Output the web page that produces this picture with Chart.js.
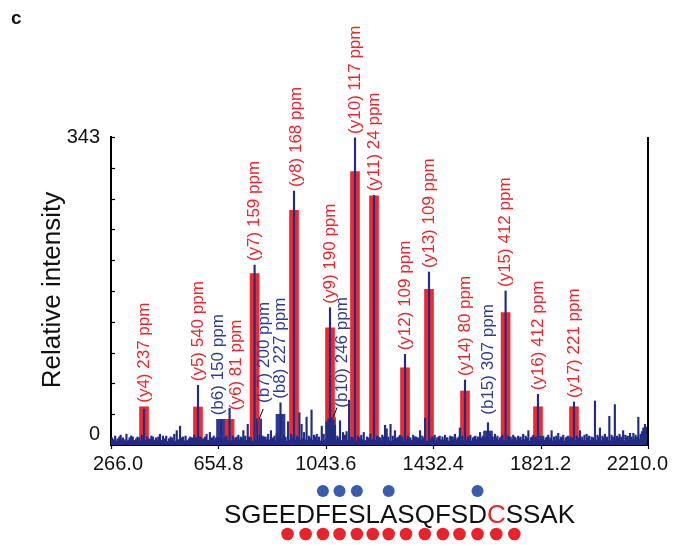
<!DOCTYPE html>
<html>
<head>
<meta charset="utf-8">
<script src="https://cdn.jsdelivr.net/npm/chart.js@4.4.1/dist/chart.umd.min.js"></script>
<style>
  html, body { margin: 0; padding: 0; background: #fff; }
  #wrap { width: 674px; height: 545px; position: relative; }
</style>
</head>
<body>
<div id="wrap"><canvas id="spec" width="674" height="545"></canvas></div>
<script>
// ---- Matched fragment ions ----
const ionNames = ['y4', 'y5', 'b6', 'y6', 'y7', 'b7', 'b8', 'y8', 'y9', 'b10', 'y10', 'y11', 'y12', 'y13', 'y14', 'b15', 'y15', 'y16', 'y17'];
const ionMz    = [385.5, 580.9, 664.2, 695.3, 785.8, 795.3, 879.6, 928.5, 1058.8, 1062.4, 1149.3, 1218.1, 1330.3, 1417.2, 1547.5, 1630.7, 1694.5, 1811.7, 1942.1];
const ionBar   = [42.6, 42.3, 28.6, 28.6, 190.8, 29, 34.2, 261.3, 130.6, 30.4, 304.4, 277.6, 86, 173.4, 60.1, 15.6, 147.4, 42.6, 42.6];
const ionPeak  = [40, 66.5, 28.6, 41, 200.4, 29, 47, 282.8, 152.9, 30.4, 342, 278, 101, 192.7, 72.4, 24.8, 171.5, 56.5, 47.9];
const ionPpm   = [237, 540, 150, 81, 159, 200, 227, 168, 190, 246, 117, 24, 109, 109, 80, 307, 412, 412, 221];

// ---- Axis ticks ----
const xTickLabels = ['266.0', '654.8', '1043.6', '1432.4', '1821.2', '2210.0'];
const xTickValues = [266.0, 654.8, 1043.6, 1432.4, 1821.2, 2210.0];
const yTickLabels = ['0', '343'];
const yTickValues = [0, 343];

// ---- Peptide ----
const sequence = 'SGEEDFESLASQFSDCSSAK';
const modifiedResidue = 16;

// ---- Unassigned spectrum peaks [m/z, intensity] ----
const spikePeaks = [
  [443, 12], [454, 10], [504, 16], [516, 21], [612, 12], [624, 14], [745, 16], [761, 23],
  [845, 16], [907, 26], [948, 36], [956, 23], [974, 31], [992, 39], [1011, 12], [1029, 21],
  [1046, 26], [1049, 24], [1053, 29], [1064, 30], [1067, 27], [1071, 28], [1077, 22], [1095, 27], [1106, 14], [1119, 15],
  [1128, 50], [1258, 22], [1264, 18], [1278, 23], [1294, 16], [1385, 16], [1403, 30], [1511, 12],
  [1529, 19], [1602, 14], [1656, 12], [1758, 12], [1777, 16], [1831, 10], [1861, 16], [1885, 13],
  [1964, 16], [1988, 12], [2018, 49], [2036, 19], [2070, 32], [2090, 45], [2120, 16], [2157, 13],
  [2175, 31], [2193, 19], [2199, 23], [2206, 20]
];
const noisePeaks = [
  [270, 8], [276, 6], [281, 10], [290, 7], [296, 9], [301, 11], [309, 8], [315, 6], [322, 12], [333, 8], [339, 10], [345, 9], [357, 7], [362, 9], [368, 8],
  [378, 11], [397, 9], [405, 7], [412, 10], [418, 9], [429, 8], [437, 9], [460, 7], [466, 10], [476, 7], [482, 9], [488, 8], [495, 12],
  [521, 8], [527, 9], [536, 10], [548, 7], [553, 9], [559, 8], [567, 11], [574, 8], [588, 9], [592, 8], [600, 7], [606, 9], [632, 8], [638, 10], [646, 8],
  [652, 9], [657, 8], [678, 8], [684, 10], [707, 10], [716, 8], [721, 9], [727, 11], [735, 9], [740, 8], [752, 10], [766, 9], [772, 8], [803, 11], [809, 8], [814, 10],
  [820, 9], [826, 9], [835, 12], [852, 8], [858, 10], [866, 13], [874, 9], [886, 8], [892, 11], [898, 9], [918, 12], [924, 8], [938, 10], [943, 8], [965, 14],
  [982, 10], [987, 8], [1001, 11], [1006, 9], [1019, 9], [1036, 12], [1085, 10], [1090, 8], [1113, 11], [1136, 9], [1141, 8], [1160, 10], [1166, 8], [1172, 11], [1181, 14],
  [1193, 9], [1199, 8], [1205, 12], [1229, 10], [1235, 9], [1240, 8], [1248, 11], [1253, 9], [1270, 9], [1286, 10], [1302, 8], [1307, 9], [1312, 11], [1320, 9],
  [1341, 10], [1346, 8], [1350, 8], [1360, 11], [1366, 9], [1371, 9], [1378, 8], [1393, 10], [1398, 8], [1428, 9], [1433, 8], [1438, 11], [1447, 8], [1452, 9], [1456, 10], [1466, 9],
  [1475, 11], [1480, 8], [1484, 8], [1494, 10], [1499, 9], [1503, 9], [1520, 8], [1526, 9], [1538, 10], [1558, 9], [1563, 8], [1567, 11], [1576, 8], [1581, 9], [1585, 10],
  [1594, 9], [1607, 8], [1612, 10], [1621, 8], [1626, 9], [1640, 11], [1648, 9], [1660, 8], [1665, 10], [1674, 8], [1679, 9], [1683, 11], [1704, 10], [1709, 8], [1713, 9],
  [1722, 11], [1727, 9], [1731, 8], [1740, 10], [1745, 8], [1749, 9], [1767, 10], [1772, 8], [1786, 8], [1790, 9], [1795, 11], [1803, 9], [1808, 8], [1821, 10], [1826, 8], [1840, 8],
  [1845, 9], [1849, 11], [1856, 8], [1870, 9], [1878, 10], [1894, 9], [1899, 8], [1903, 11], [1912, 8], [1916, 9], [1921, 10], [1930, 9], [1935, 8], [1952, 10], [1958, 8], [1972, 9],
  [1980, 11], [1992, 8], [1997, 10], [2006, 9], [2011, 8], [2027, 11], [2032, 9], [2045, 10], [2050, 8], [2054, 12], [2062, 9], [2078, 11], [2084, 9], [2098, 10], [2103, 8], [2107, 12],
  [2113, 9], [2128, 11], [2133, 9], [2137, 10], [2145, 13], [2150, 9], [2165, 11], [2170, 9], [2183, 12], [2188, 15]
];
// Dense low-level baseline [m/z, intensity]
const baseline = [
  [266, 4], [278, 5], [290, 4], [303, 6], [316, 4], [330, 5], [344, 4], [358, 6], [372, 4], [386, 5],
  [400, 4], [414, 6], [428, 5], [442, 4], [456, 6], [470, 4], [484, 5], [498, 4], [512, 6], [526, 4],
  [540, 5], [554, 4], [568, 6], [582, 4], [596, 5], [610, 4], [624, 6], [638, 5], [652, 4], [666, 6],
  [680, 4], [694, 5], [708, 4], [722, 6], [736, 5], [750, 4], [764, 6], [778, 4], [792, 5], [806, 6],
  [820, 4], [834, 6], [848, 5], [862, 4], [876, 6], [890, 5], [904, 4], [918, 6], [932, 5], [946, 4],
  [960, 7], [974, 5], [988, 4], [1002, 6], [1016, 5], [1030, 4], [1044, 6], [1058, 5], [1072, 4], [1086, 6],
  [1100, 5], [1114, 4], [1128, 6], [1142, 5], [1156, 4], [1170, 6], [1184, 5], [1198, 4], [1212, 6], [1226, 5],
  [1240, 4], [1254, 6], [1268, 5], [1282, 4], [1296, 6], [1310, 5], [1324, 4], [1338, 6], [1352, 5], [1366, 4],
  [1380, 6], [1394, 5], [1408, 4], [1422, 6], [1436, 5], [1450, 4], [1464, 6], [1478, 5], [1492, 4], [1506, 6],
  [1520, 5], [1534, 4], [1548, 6], [1562, 5], [1576, 4], [1590, 6], [1604, 5], [1618, 4], [1632, 6], [1646, 5],
  [1660, 4], [1674, 6], [1688, 5], [1702, 4], [1716, 6], [1730, 5], [1744, 4], [1758, 6], [1772, 5], [1786, 4],
  [1800, 6], [1814, 5], [1828, 4], [1842, 6], [1856, 5], [1870, 4], [1884, 6], [1898, 5], [1912, 4], [1926, 6],
  [1940, 5], [1954, 4], [1968, 6], [1982, 5], [1996, 4], [2010, 6], [2024, 5], [2038, 4], [2052, 6], [2066, 5],
  [2080, 4], [2094, 6], [2108, 5], [2122, 4], [2136, 6], [2150, 5], [2164, 7], [2178, 6], [2192, 9], [2200, 8], [2210, 7]
];

// ---- Styling ----
const FONT = 'Arial, "Liberation Sans", Helvetica, sans-serif';
const RED = '#ED2A30';
const NAVY = '#232C80';
const BLUE_BAR = '#2C3892';
const LABEL_RED = '#E8262E';
const LABEL_BLUE = '#2F3B8E';
const DOT_BLUE = '#3A5CB0';
const DOT_RED = '#E8232B';

// Label placement tweaks (px) for crowded annotations
const labelNudge = { b6: [-3, 0], y6: [7, 6], b7: [7, -12], b10: [11, -6], b15: [0, -4], y8: [2, 0] };
const leaderIons = ['b7', 'b10'];

const yIdx = ionNames.map((n, i) => i).filter(i => ionNames[i][0] === 'y');
const bIdx = ionNames.map((n, i) => i).filter(i => ionNames[i][0] === 'b');

const stickData = []
  .concat(ionMz.map((m, i) => ({ x: m, y: ionPeak[i] })))
  .concat(spikePeaks.map(p => ({ x: p[0], y: p[1] })))
  .concat(noisePeaks.map(p => ({ x: p[0], y: p[1] })));

const decor = {
  id: 'decor',
  afterDraw(chart) {
    const { ctx, chartArea: a, scales: { x, y } } = chart;
    ctx.save();

    // right frame
    ctx.strokeStyle = '#000';
    ctx.lineWidth = 2;
    ctx.beginPath();
    ctx.moveTo(a.right, a.top);
    ctx.lineTo(a.right, a.bottom + 1);
    ctx.stroke();

    // y minor tick marks (inside)
    ctx.lineWidth = 1.2;
    for (let i = 0; i <= 10; i++) {
      const py = Math.round(y.getPixelForValue(y.max * i / 10)) + 0.5;
      ctx.beginPath();
      ctx.moveTo(a.left, py);
      ctx.lineTo(a.left + 4, py);
      ctx.stroke();
    }
    // x tick marks (outside)
    xTickValues.forEach(v => {
      const px = Math.round(x.getPixelForValue(v)) + 0.5;
      ctx.beginPath();
      ctx.moveTo(px, a.bottom);
      ctx.lineTo(px, a.bottom + 4);
      ctx.stroke();
    });

    // tick labels
    ctx.fillStyle = '#111';
    ctx.font = '20px ' + FONT;
    ctx.textBaseline = 'alphabetic';
    ctx.textAlign = 'left';
    xTickValues.forEach((v, i) => {
      const w = ctx.measureText(xTickLabels[i]).width;
      let left = x.getPixelForValue(v) - w / 2;
      left = Math.max(left, a.left - 18);
      left = Math.min(left, a.right + 20 - w);
      ctx.fillText(xTickLabels[i], left, a.bottom + 25);
    });
    ctx.textAlign = 'right';
    ctx.textBaseline = 'middle';
    ctx.fillText(yTickLabels[1], a.left - 11, y.getPixelForValue(yTickValues[1]));
    ctx.textBaseline = 'alphabetic';
    ctx.fillText(yTickLabels[0], a.left - 11, y.getPixelForValue(yTickValues[0]) - 5);

    // y title
    ctx.save();
    ctx.translate(60, (a.top + a.bottom) / 2 - 1);
    ctx.rotate(-Math.PI / 2);
    ctx.textAlign = 'center';
    ctx.textBaseline = 'alphabetic';
    ctx.font = '26px ' + FONT;
    ctx.fillText('Relative intensity', 0, 0);
    ctx.restore();

    // panel letter
    ctx.font = 'bold 19px ' + FONT;
    ctx.textAlign = 'left';
    ctx.fillText('c', 11, 24);

    // ion annotations
    ctx.font = '17px ' + FONT;
    ionNames.forEach((name, i) => {
      const px = x.getPixelForValue(ionMz[i]);
      const top = y.getPixelForValue(Math.max(ionBar[i], ionPeak[i]));
      const nd = labelNudge[name] || [0, 0];
      const lx = px + nd[0];
      const ly = top - 4 + nd[1];
      ctx.save();
      ctx.translate(lx, ly);
      ctx.rotate(-Math.PI / 2);
      ctx.fillStyle = name[0] === 'y' ? LABEL_RED : LABEL_BLUE;
      ctx.textAlign = 'left';
      ctx.textBaseline = 'middle';
      ctx.fillText('(' + name + ') ' + ionPpm[i] + ' ppm', 0, 0);
      ctx.restore();
      if (leaderIons.includes(name)) {
        ctx.strokeStyle = '#000';
        ctx.lineWidth = 1;
        ctx.beginPath();
        ctx.moveTo(px + 2, top);
        ctx.lineTo(px + 6, top - 10);
        ctx.stroke();
      }
    });

    // peptide sequence with fragment coverage dots
    ctx.font = '26px ' + FONT;
    ctx.textAlign = 'left';
    ctx.textBaseline = 'alphabetic';
    const total = ctx.measureText(sequence).width;
    let cx = (a.left + a.right) / 2 + 20 - total / 2;
    const centers = [];
    for (let k = 0; k < sequence.length; k++) {
      const ch = sequence[k];
      const w = ctx.measureText(ch).width;
      ctx.fillStyle = (k + 1 === modifiedResidue) ? DOT_RED : '#111';
      ctx.fillText(ch, cx, 523);
      centers.push(cx + w / 2);
      cx += w;
    }
    const n = sequence.length;
    bIdx.forEach(i => {
      const k = parseInt(ionNames[i].slice(1), 10);
      ctx.fillStyle = DOT_BLUE;
      ctx.beginPath();
      ctx.arc(centers[k - 1], 491, 6, 0, Math.PI * 2);
      ctx.fill();
    });
    yIdx.forEach(i => {
      const k = parseInt(ionNames[i].slice(1), 10);
      ctx.fillStyle = DOT_RED;
      ctx.beginPath();
      ctx.arc(centers[n - k], 534, 6.3, 0, Math.PI * 2);
      ctx.fill();
    });

    ctx.restore();
  }
};

new Chart(document.getElementById('spec'), {
  type: 'bar',
  data: {
    datasets: [
      {
        label: 'spectrum',
        data: stickData,
        backgroundColor: NAVY,
        barThickness: 1.5,
        grouped: false,
        order: 0
      },
      {
        type: 'line',
        label: 'baseline',
        data: baseline.map(p => ({ x: p[0], y: p[1] })),
        borderColor: NAVY,
        backgroundColor: NAVY,
        borderWidth: 1,
        pointRadius: 0,
        fill: 'origin',
        tension: 0,
        order: 1
      },
      {
        label: 'y ions',
        data: yIdx.map(i => ({ x: ionMz[i], y: ionBar[i] })),
        backgroundColor: RED,
        barThickness: 9,
        grouped: false,
        order: 2
      },
      {
        label: 'b ions',
        data: bIdx.map(i => ({ x: ionMz[i], y: ionBar[i] })),
        backgroundColor: BLUE_BAR,
        barThickness: 9,
        grouped: false,
        order: 3
      }
    ]
  },
  options: {
    responsive: false,
    animation: false,
    layout: { padding: { left: 111, right: 26, top: 137, bottom: 100 } },
    plugins: { legend: { display: false }, tooltip: { enabled: false } },
    scales: {
      x: {
        type: 'linear',
        min: 266,
        max: 2210,
        offset: false,
        grid: { display: false, offset: false, drawTicks: false, tickLength: 0 },
        border: { display: true, color: '#000', width: 2 },
        ticks: { display: false, padding: 0 }
      },
      y: {
        type: 'linear',
        min: 0,
        max: 343,
        grid: { display: false, drawTicks: false, tickLength: 0 },
        border: { display: true, color: '#000', width: 2 },
        ticks: { display: false, padding: 0 }
      }
    }
  },
  plugins: [decor]
});
</script>
</body>
</html>
